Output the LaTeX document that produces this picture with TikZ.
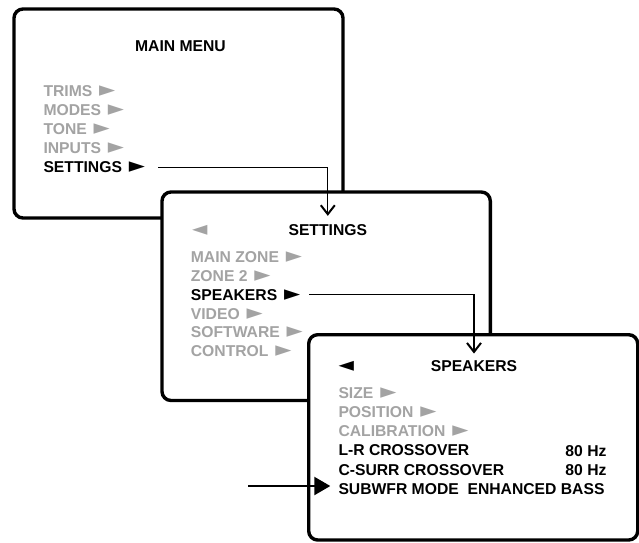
\documentclass[tikz,border=0pt]{standalone}
\usepackage{fontspec}
\setmainfont{Liberation Sans}
\newfontfamily\symfont{DejaVu Sans}
\usetikzlibrary{arrows.meta, positioning}
\definecolor{dimtext}{HTML}{A3A3A3}
\newcommand{\nextmark}{\kern2.5pt{\symfont\fontsize{21}{21}\selectfont\char"25BA}}
\newcommand{\backmark}{{\symfont\fontsize{20}{20}\selectfont\char"25C4}}

\begin{document}
\begin{tikzpicture}[
    x=1pt, y=-1pt,
    every node/.style={font=\fontsize{15.7}{18}\selectfont\bfseries, inner sep=0pt},
    screen/.style={
        draw=black,
        fill=white,
        line width=3.4pt,
        rounded corners=9pt
    },
    dimitem/.style={text=dimtext, anchor=base west},
    activeitem/.style={text=black, anchor=base west},
    menutitle/.style={text=black, anchor=base},
    link/.style={line width=1.3pt, -{Straight Barb[length=9pt, width=14pt, line width=2pt]}},
    pointer/.style={line width=2.2pt, -{Triangle[length=16pt, width=18pt]}}
]
\useasboundingbox (0,0) rectangle (639,542);

% main menu screen
\draw[screen] (14,9) rectangle (343,218);
\node[menutitle] (maintitle) at (180.5,51.7) {MAIN MENU};
\node[dimitem] (trims) at (43.3,96.7) {TRIMS \nextmark};
\node[dimitem] (modes) at ([yshift=-19pt]trims.base west) {MODES \nextmark};
\node[dimitem] (tone) at ([yshift=-19pt]modes.base west) {TONE \nextmark};
\node[dimitem] (inputs) at ([yshift=-19pt]tone.base west) {INPUTS \nextmark};
\node[activeitem] (setitem) at ([yshift=-19pt]inputs.base west) {SETTINGS \nextmark};

% settings screen
\draw[screen] (162,192) rectangle (490.3,400.5);
\node[dimitem] (setback) at (192,235) {\backmark};
\node[menutitle] (settitle) at (327.8,235) {SETTINGS};
\node[dimitem] (mainzone) at (190.7,262.3) {MAIN ZONE \nextmark};
\node[dimitem] (zonetwo) at ([yshift=-18.9pt]mainzone.base west) {ZONE 2 \nextmark};
\node[activeitem] (spkitem) at ([yshift=-18.9pt]zonetwo.base west) {SPEAKERS \nextmark};
\node[dimitem] (video) at ([yshift=-18.9pt]spkitem.base west) {VIDEO \nextmark};
\node[dimitem] (software) at ([yshift=-18.9pt]video.base west) {SOFTWARE \nextmark};
\node[dimitem] (control) at ([yshift=-18.9pt]software.base west) {CONTROL \nextmark};

\draw[link, shorten <=13pt, shorten >=8pt] (setitem.east) -| (settitle.north);

% speakers screen
\draw[screen] (308.7,334.7) rectangle (637.7,540);
\node[activeitem] (spkback) at (338.3,371.7) {\backmark};
\node[menutitle] (spktitle) at (474,371.7) {SPEAKERS};
\node[dimitem] (size) at (338.3,398.3) {SIZE \nextmark};
\node[dimitem] (position) at ([yshift=-19.2pt]size.base west) {POSITION \nextmark};
\node[dimitem] (calib) at ([yshift=-19.2pt]position.base west) {CALIBRATION \nextmark};
\node[activeitem] (lrcross) at ([yshift=-19.2pt]calib.base west) {L-R CROSSOVER};
\node[activeitem] (csurr) at ([yshift=-19.2pt]lrcross.base west) {C-SURR CROSSOVER};
\node[activeitem] (subwfr) at ([yshift=-19.2pt]csurr.base west) {SUBWFR MODE\ \ ENHANCED BASS};
\node[activeitem, anchor=base east] (lrhz) at (606.7,456) {80 Hz};
\node[activeitem, anchor=base east] (csurrhz) at (csurr.base -| lrhz.base east) {80 Hz};

\draw[link, shorten <=9pt, shorten >=7pt] (spkitem.east) -| (spktitle.north);

\coordinate (subtail) at (248,486);
\draw[pointer, shorten >=8pt] (subtail) -- (subtail -| subwfr.west);

\end{tikzpicture}
\end{document}
